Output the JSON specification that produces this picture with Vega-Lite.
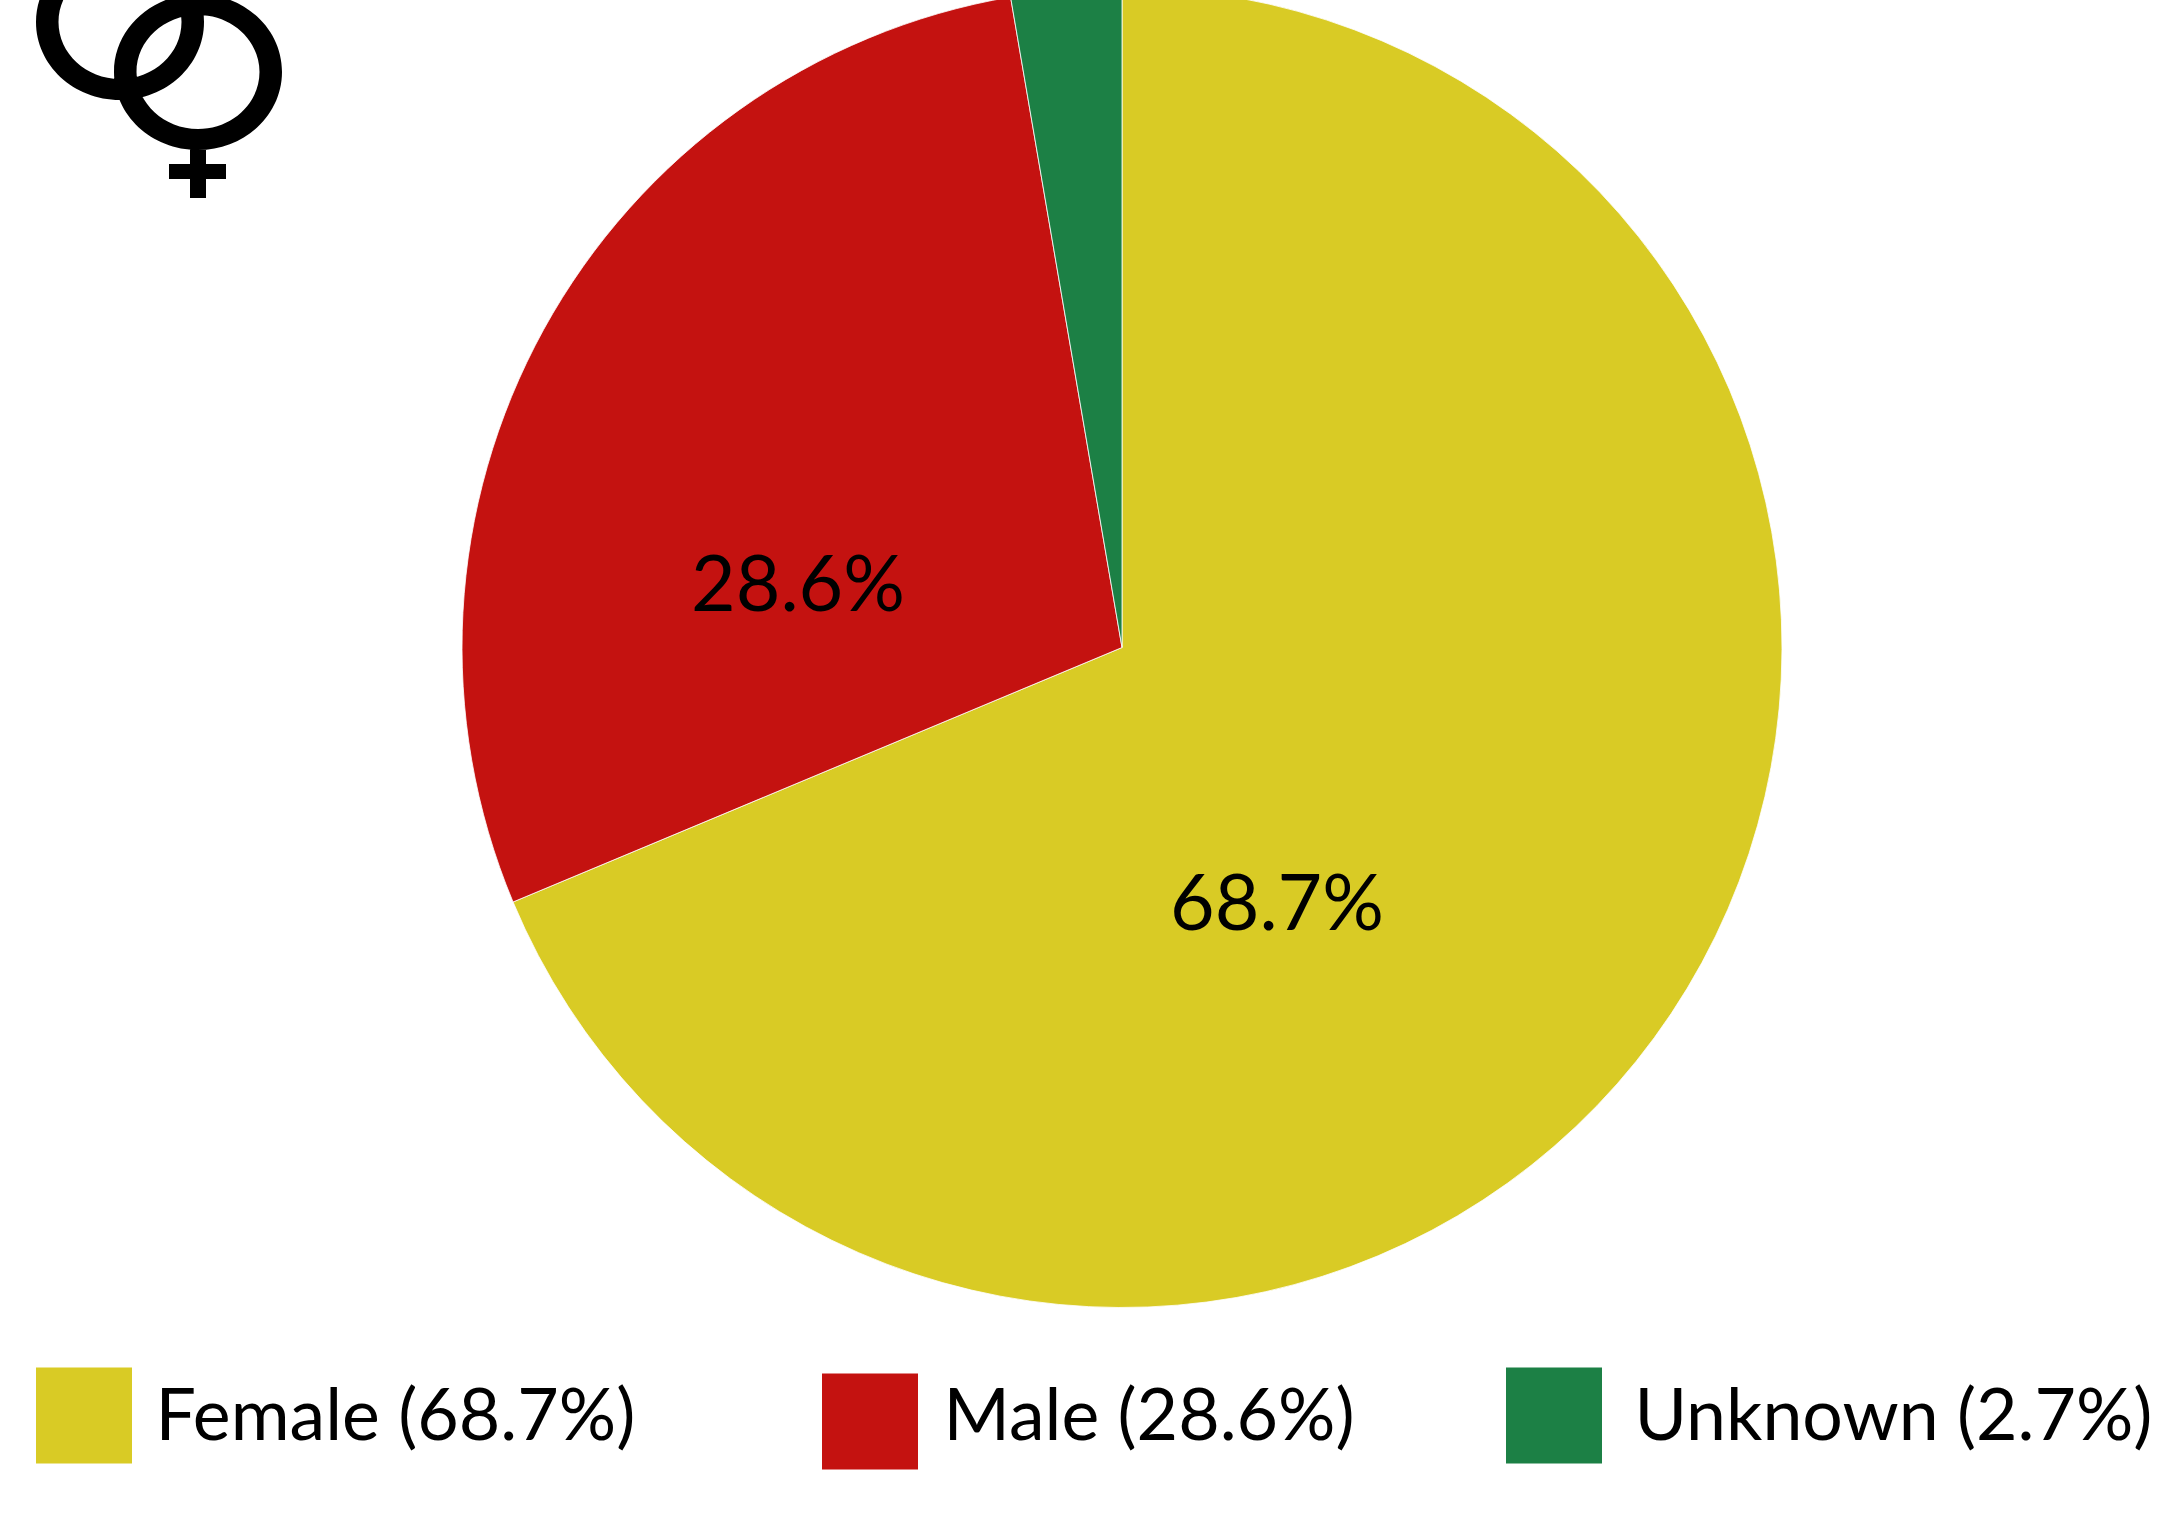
{
"$schema":"https://vega.github.io/schema/vega-lite/v6.json",
"width":2160,"height":1513,"padding":0,"autosize":{"type":"none"},
"background":"white","view":{"stroke":null},
"config":{"text":{"font":"Lato"}},
"data":{"values":[
{"gender":"Female","share":68.7,"pct":"68.7%","label":"Female (68.7%)"},
{"gender":"Male","share":28.6,"pct":"28.6%","label":"Male (28.6%)"},
{"gender":"Unknown","share":2.7,"pct":"2.7%","label":"Unknown (2.7%)"}
]},
"resolve":{"scale":{"x":"independent","y":"independent"}},
"layer":[
{"mark":{"type":"arc","radius":660,"stroke":"white","strokeWidth":0.8},
 "encoding":{
  "theta":{"field":"share","type":"quantitative","stack":true,"scale":{"domain":[0,100]}},
  "order":{"field":"share","sort":"descending"},
  "color":{"field":"gender","type":"nominal","legend":null,"scale":{"domain":["Female","Male","Unknown"],"range":["#D9CB25","#C41210","#1C8045"]}},
  "x":{"field":"share","type":"quantitative","axis":null,"scale":{"domain":[2.7,68.7],"range":[1122,1122],"zero":false,"nice":false}},
  "y":{"field":"share","type":"quantitative","axis":null,"scale":{"domain":[2.7,68.7],"range":[647.5,647.5],"zero":false,"nice":false}}
 }},
{"transform":[{"filter":"datum.share > 5"}],
 "mark":{"type":"text","fontSize":77,"font":"Lato","align":"center","baseline":"alphabetic","color":"black"},
 "encoding":{
  "text":{"field":"pct"},
  "x":{"field":"share","type":"quantitative","axis":null,"scale":{"domain":[28.6,68.7],"range":[798,1277],"zero":false,"nice":false}},
  "y":{"field":"share","type":"quantitative","axis":null,"scale":{"domain":[28.6,68.7],"range":[611,930],"zero":false,"nice":false}}
 }},
{"mark":{"type":"square","size":9216,"opacity":1},
 "encoding":{
  "color":{"field":"gender","type":"nominal","legend":null},
  "x":{"field":"share","type":"quantitative","axis":null,"scale":{"domain":[2.7,28.6,68.7],"range":[1554,870,84],"zero":false,"nice":false}},
  "y":{"field":"share","type":"quantitative","axis":null,"scale":{"domain":[2.7,28.6,68.7],"range":[1415.5,1421.5,1415.5],"zero":false,"nice":false}}
 }},
{"mark":{"type":"text","fontSize":71.6,"font":"Lato","align":"left","baseline":"alphabetic","color":"black"},
 "encoding":{
  "text":{"field":"label"},
  "x":{"field":"share","type":"quantitative","axis":null,"scale":{"domain":[2.7,28.6,68.7],"range":[1634.5,943.5,155.5],"zero":false,"nice":false}},
  "y":{"field":"share","type":"quantitative","axis":null,"scale":{"domain":[2.7,68.7],"range":[1439.5,1439.5],"zero":false,"nice":false}}
 }},
{"transform":[{"filter":"datum.gender === 'Female'"}],
 "mark":{"type":"point","filled":true,"size":4,"opacity":1,"fill":"black","stroke":null,
  "shape":"M-45 72A84 78 0 1 1 123 72A84 78 0 1 1 -45 72ZM-22.5 72A61.5 57 0 1 0 100.5 72A61.5 57 0 1 0 -22.5 72ZM-123 22A84 78 0 1 1 45 22A84 78 0 1 1 -123 22ZM-100.5 22A61.5 57 0 1 0 22.5 22A61.5 57 0 1 0 -100.5 22ZM31 140L47 140L47 198L31 198ZM10 164L67 164L67 179L10 179Z"},
 "encoding":{
  "x":{"field":"share","type":"quantitative","axis":null,"scale":{"domain":[0,100],"range":[159,159],"zero":false,"nice":false}},
  "y":{"field":"share","type":"quantitative","axis":null,"scale":{"domain":[0,100],"range":[0,0],"zero":false,"nice":false}}
 }}
]
}
